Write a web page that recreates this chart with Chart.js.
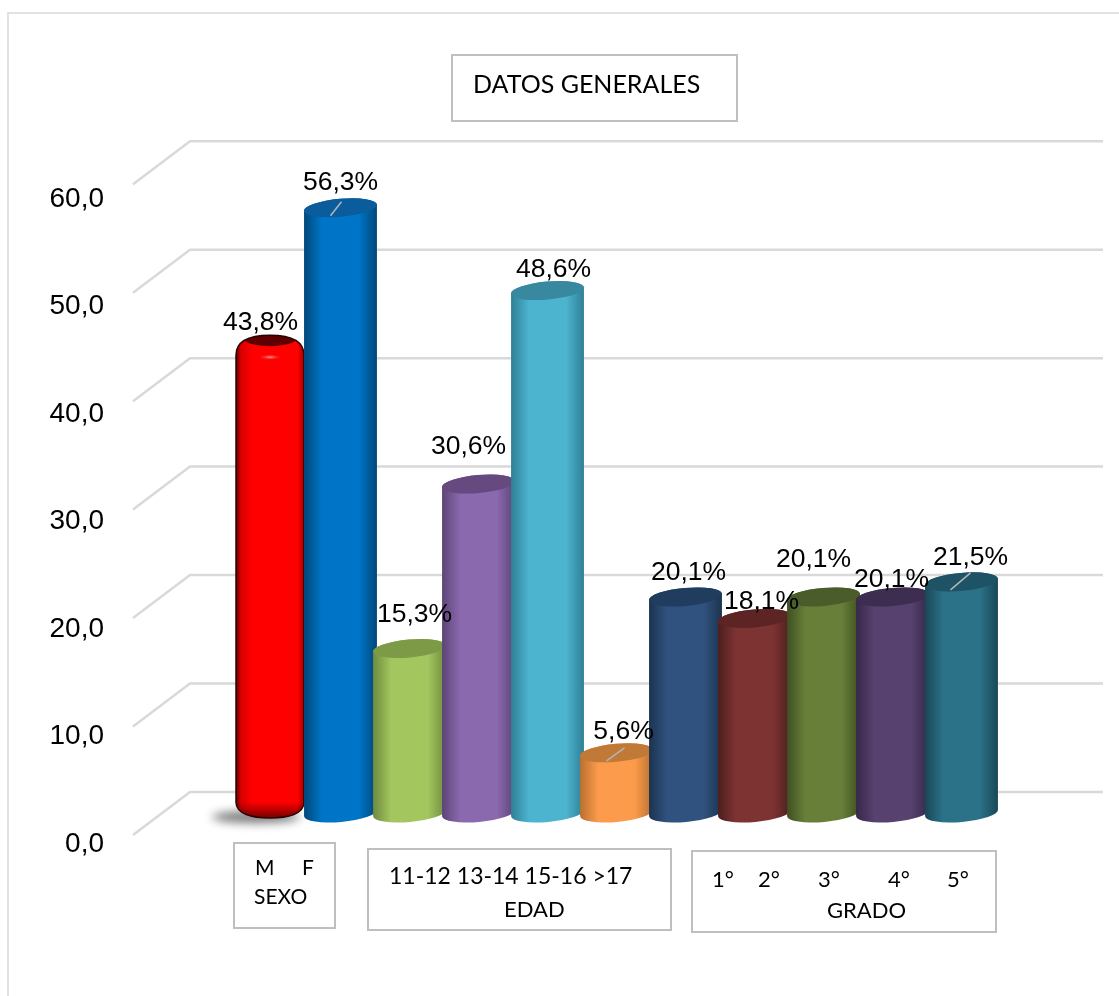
<!DOCTYPE html>
<html lang="es">
<head>
<meta charset="utf-8">
<title>Datos generales</title>
<script src="https://cdn.jsdelivr.net/npm/chart.js@4"></script>
<style>
    body { margin: 0; background: #fff; }
    #wrap { position: relative; width: 1119px; height: 996px; overflow: hidden; }
    canvas { position: absolute; left: 0; top: 0; }
</style>
</head>
<body>
<div id="wrap"><canvas id="chart" width="1119" height="996"></canvas></div>
<script>
const categories = ["M", "F", "11-12", "13-14", "15-16", ">17", "1°", "2°", "3°", "4°", "5°"];
const values = [43.8, 56.3, 15.3, 30.6, 48.6, 5.6, 20.1, 18.1, 20.1, 20.1, 21.5];
const valueLabels = ["43,8%", "56,3%", "15,3%", "30,6%", "48,6%", "5,6%", "20,1%", "18,1%", "20,1%", "20,1%", "21,5%"];
const tickLabels = ["0,0", "10,0", "20,0", "30,0", "40,0", "50,0", "60,0"];

const chartTitle = "DATOS GENERALES";
const groupTitles = ["SEXO", "EDAD", "GRADO"];

// colours of each cylinder: middle, edge, top
const midColors = ["#ff0000", "#0075c8", "#a4c65f", "#8a69ae", "#4db4d0", "#fb9b4b", "#30527e", "#7e3333", "#677f38", "#56416f", "#2b7288"];
const edgeColors = ["#8f0000", "#004778", "#6f8a3e", "#5c4476", "#2f7f95", "#b8702f", "#1b3350", "#4c1e1e", "#3e4f21", "#36284a", "#184856"];
const capColors = ["#5e0000", "#0b5c9c", "#7d9a47", "#65497f", "#38889f", "#c07936", "#203c5e", "#5c2523", "#4a5c29", "#3d2d50", "#1d5364"];

// label offset from top of the bar [dx, dy]
const labelOffsets = [[-11, -19], [0, -25], [5, -34], [-10, -37], [6, -21], [7, -21], [3, -24], [7, -17], [-10, -37], [-1, -17], [9, -24]];
// leader lines inside the top of some bars
const leaders = { 1: [-10, 8, 1, -6], 5: [-10, 8, 8, -5], 10: [-11, 8, 9, -9] };

const TILT = -5 * Math.PI / 180;
const CAP_H = 9;

function drawCylinder(ctx, el, i) {
    const cx = el.x, rx = el.width / 2, top = el.y, base = el.base;
    const left = cx - rx, right = cx + rx;
    const grad = ctx.createLinearGradient(left, 0, right, 0);
    grad.addColorStop(0, edgeColors[i]);
    grad.addColorStop(0.25, midColors[i]);
    grad.addColorStop(0.75, midColors[i]);
    grad.addColorStop(1, edgeColors[i]);

    ctx.save();
    ctx.beginPath();
    ctx.ellipse(cx, base, rx, CAP_H, TILT, 0, Math.PI);
    ctx.ellipse(cx, top, rx, CAP_H, TILT, Math.PI, 2 * Math.PI);
    ctx.closePath();
    ctx.fillStyle = grad;
    ctx.fill();

    ctx.beginPath();
    ctx.ellipse(cx, top, rx, CAP_H, TILT, 0, 2 * Math.PI);
    ctx.fillStyle = capColors[i];
    ctx.fill();

    if (leaders[i]) {
        const l = leaders[i];
        ctx.beginPath();
        ctx.moveTo(cx + l[0], top + l[1]);
        ctx.lineTo(cx + l[2], top + l[3]);
        ctx.strokeStyle = "#b5b5b5";
        ctx.lineWidth = 1.5;
        ctx.stroke();
    }
    ctx.restore();
}

// first bar is the rounded one with a dark outline and a shadow on the floor
function drawRedBar(ctx, el, i) {
    const cx = el.x - 1.5, rx = 34, top = el.y - 7, bottom = el.base + 5;
    const left = cx - rx, right = cx + rx;

    ctx.save();
    ctx.save();
    ctx.filter = "blur(5px)";
    ctx.beginPath();
    ctx.ellipse(cx - 14, el.base + 4, 44, 6, 0, 0, 2 * Math.PI);
    ctx.fillStyle = "#777";
    ctx.fill();
    ctx.restore();

    const body = new Path2D();
    body.moveTo(left, top + 20);
    body.bezierCurveTo(left, top + 4, left + 16, top, cx, top);
    body.bezierCurveTo(right - 16, top, right, top + 4, right, top + 20);
    body.lineTo(right, bottom - 16);
    body.bezierCurveTo(right, bottom - 4, right - 16, bottom, cx, bottom);
    body.bezierCurveTo(left + 16, bottom, left, bottom - 4, left, bottom - 16);
    body.closePath();
    const grad = ctx.createLinearGradient(left, 0, right, 0);
    grad.addColorStop(0, "#5c0000");
    grad.addColorStop(0.07, "#d80000");
    grad.addColorStop(0.25, midColors[i]);
    grad.addColorStop(0.9, midColors[i]);
    grad.addColorStop(1, "#a80000");
    ctx.fillStyle = grad;
    ctx.fill(body);

    ctx.save();
    ctx.clip(body);
    const shade = ctx.createLinearGradient(0, bottom - 16, 0, bottom);
    shade.addColorStop(0, "rgba(90,0,0,0)");
    shade.addColorStop(1, "rgba(90,0,0,0.85)");
    ctx.fillStyle = shade;
    ctx.fillRect(left, bottom - 16, rx * 2, 16);

    // dark crescent on top
    ctx.beginPath();
    ctx.ellipse(cx, top + 4, rx - 8, 7, 0, 0, 2 * Math.PI);
    ctx.fillStyle = capColors[i];
    ctx.fill();

    // small highlight below the rim
    ctx.save();
    ctx.translate(cx, top + 22);
    ctx.scale(1, 0.25);
    const glow = ctx.createRadialGradient(0, 0, 1, 0, 0, 12);
    glow.addColorStop(0, "rgba(255,170,170,0.8)");
    glow.addColorStop(1, "rgba(255,0,0,0)");
    ctx.fillStyle = glow;
    ctx.fillRect(-12, -12, 24, 24);
    ctx.restore();
    ctx.restore();

    ctx.strokeStyle = "#2a0000";
    ctx.lineWidth = 1.5;
    ctx.stroke(body);
    ctx.restore();
}

const cylinders = {
    id: "cylinders",
    beforeDatasetsDraw(chart) {
        const ctx = chart.ctx;
        chart.getDatasetMeta(0).data.forEach((el, i) => {
            el.draw = function (c) {
                if (i === 0) drawRedBar(c, el, i);
                else drawCylinder(c, el, i);
            };
        });

        // walls: back lines and the slanted lines on the left
        const y = chart.scales.y;
        ctx.save();
        ctx.strokeStyle = "#d9d9d9";
        ctx.lineWidth = 2.5;
        tickLabels.forEach((t, n) => {
            const d = y.getPixelForValue(0) - y.getPixelForValue(n * 10);
            const backY = 792 - d * 1.009;
            const frontY = 835 - d * 1.009;
            ctx.beginPath();
            ctx.moveTo(133, frontY);
            ctx.lineTo(190, backY);
            ctx.lineTo(1103, backY);
            ctx.stroke();
        });
        ctx.restore();
    },
    afterDraw(chart) {
        const ctx = chart.ctx;
        ctx.save();

        // bar labels
        ctx.font = '26.5px "Liberation Sans"';
        ctx.fillStyle = "#000";
        ctx.textAlign = "center";
        ctx.textBaseline = "middle";
        chart.getDatasetMeta(0).data.forEach((el, i) => {
            ctx.fillText(valueLabels[i], el.x + labelOffsets[i][0], el.y + labelOffsets[i][1]);
        });

        // text boxes
        ctx.strokeStyle = "#bfbfbf";
        ctx.lineWidth = 2;
        ctx.strokeRect(452, 55, 285, 66);
        ctx.strokeRect(234, 843, 101, 85);
        ctx.strokeRect(368, 849, 303, 81);
        ctx.strokeRect(692, 851, 304, 81);

        ctx.textAlign = "left";
        ctx.font = '25px Lato';
        ctx.fillText(chartTitle, 473, 85);

        ctx.font = '21px Lato';
        ctx.fillText(categories[0], 255, 868);
        ctx.fillText(categories[1], 302, 868);
        ctx.fillText(groupTitles[0], 254, 897);
        ctx.font = '22px Lato';
        ctx.fillText(groupTitles[1], 504, 910);
        [712, 758, 818, 888, 947].forEach((x, n) => ctx.fillText(categories[6 + n], x, 880));
        ctx.fillText(groupTitles[2], 827, 911);
        ctx.font = '23px Lato';
        ctx.fillText(categories.slice(2, 6).join(" "), 389, 877);

        // page frame
        ctx.strokeStyle = "#d9d9d9";
        ctx.lineWidth = 1.5;
        ctx.beginPath();
        ctx.moveTo(8, 996);
        ctx.lineTo(8, 13);
        ctx.lineTo(1119, 13);
        ctx.stroke();
        ctx.restore();
    }
};

new Chart(document.getElementById("chart"), {
    type: "bar",
    data: {
        labels: categories,
        datasets: [{
            data: values,
            backgroundColor: midColors,
            barPercentage: 1.06,
            categoryPercentage: 1,
            clip: false
        }]
    },
    options: {
        responsive: false,
        animation: false,
        layout: { padding: { left: 0, right: 123, top: 168, bottom: 183 } },
        plugins: { legend: { display: false }, tooltip: { enabled: false } },
        scales: {
            x: { display: false },
            y: {
                min: 0,
                max: 60,
                afterFit(scale) { scale.width = 237; },
                grid: { display: false, drawTicks: false },
                border: { display: false },
                ticks: {
                    stepSize: 10,
                    padding: 133,
                    labelOffset: 31,
                    color: "#000",
                    font: { family: "Liberation Sans", size: 28 },
                    callback: (v, index) => tickLabels[index]
                }
            }
        }
    },
    plugins: [cylinders]
});
</script>
</body>
</html>
